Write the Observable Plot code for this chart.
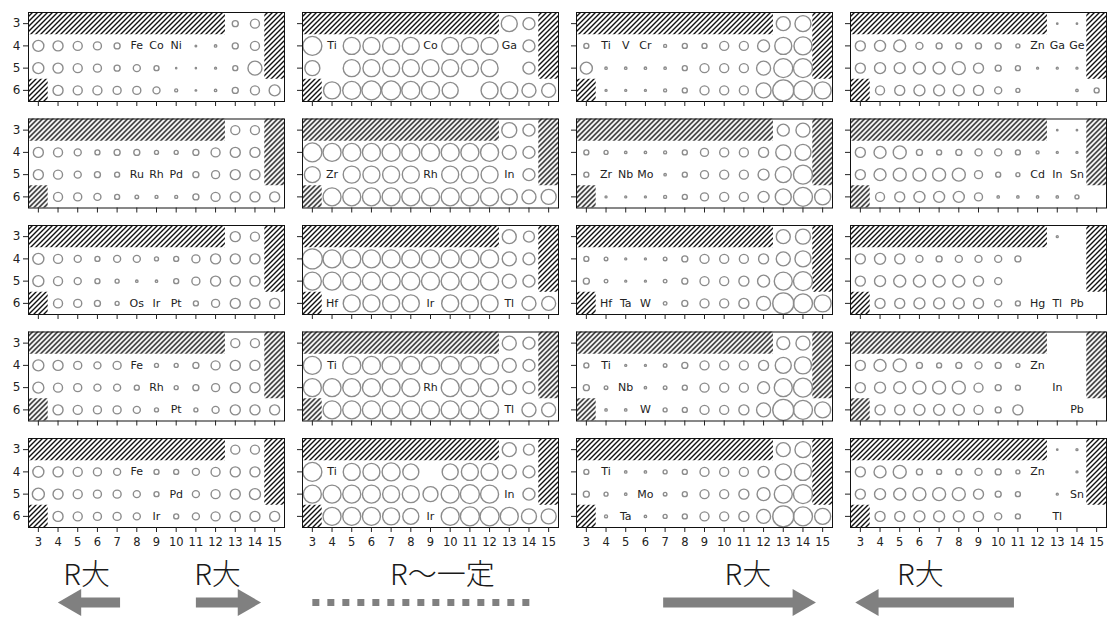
<!DOCTYPE html>
<html><head><meta charset="utf-8">
<script src="https://cdn.jsdelivr.net/npm/d3@7"></script>
<script src="https://cdn.jsdelivr.net/npm/@observablehq/plot@0.6"></script>
<style>html,body{margin:0;background:#fff;} #chart svg{display:block}</style>
</head><body><div id="chart"></div><script>
const _ = null;
const groups = [3,4,5,6,7,8,9,10,11,12,13,14,15];
const periods = [3,4,5,6];

// each panel: rows = periods 3..6, columns = groups 3..15, value = ring size
const r1c1 = [[_,_,_,_,_,_,_,_,_,_,3,4.5,_],[5.5,5,4.5,4,3,_,_,_,0.8,1.2,3,4.5,_],[5.5,5,4.5,4,3,3.5,2.5,0.6,0.6,1,2.5,7,_],[_,5,4.5,4.5,4,4,3.5,1.5,0.8,1.2,3,4.5,5.5]];
const r1c2 = [[_,_,_,_,_,_,_,_,_,_,8,6,_],[9.5,_,8.5,8.5,8.5,8.5,_,8.5,8.5,8.5,_,6,_],[7.5,_,8.5,8.5,8.5,8.5,8.5,8.5,8.5,8.5,_,6,_],[_,8.5,9,9.5,9.5,9,9,8,_,8.5,8.5,7,7]];
const r1c3 = [[_,_,_,_,_,_,_,_,_,_,7,8,_],[2.5,_,_,_,1.5,2.5,2.5,4.5,4.5,6,8.5,9,_],[6,1.2,1.2,1.2,1.2,2.5,4.5,4.5,4.5,7,9.5,9.5,_],[_,1,1,1,1.5,2.5,4.5,4.5,4.5,7.5,10.5,9.5,8.5]];
const r1c4 = [[_,_,_,_,_,_,_,_,_,_,0.7,0.7,_],[5,5.5,6,3.5,3,3,3,3,2,_,_,_,_],[5,5.5,5.5,6,6,6.5,5,3,2.5,1,1,1,_],[_,4.5,5,5.5,5.5,5.5,5,3.5,2,_,_,1.2,2.5]];
const r2c1 = [[_,_,_,_,_,_,_,_,_,_,4.5,4.5,_],[5,4.5,3.5,2.5,3,3,2,2,3,4.5,5,5,_],[5,4.5,3.5,3,2.5,_,_,_,3,4,5,5,_],[_,4.5,4,3.5,2.5,1.8,1.5,1.5,3,4.5,5,5,5]];
const r2c2 = [[_,_,_,_,_,_,_,_,_,_,7.5,6,_],[9.5,9,9,9,9,9,9,9,9,9,7,6,_],[8,_,8.5,8.5,8.5,8.5,_,8.5,8.5,8.5,_,6,_],[_,9,9,9,9,9,9,9,9,9,8,7,7.5]];
const r2c3 = [[_,_,_,_,_,_,_,_,_,_,6,7,_],[2.5,2,1.2,1.2,1.5,2.5,4,4.5,4.5,5,7.5,8,_],[2.5,_,_,_,1.2,2.5,4,4.5,4.5,5.5,8,9.5,_],[_,1,1,1,1.5,2.5,4,4.5,4.5,5.5,8,9.5,8]];
const r2c4 = [[_,_,_,_,_,_,_,_,_,_,0.7,0.7,_],[5,6,6.5,3,2.5,3,3.5,3.5,2.5,1.5,1,1,_],[5,6,6.5,6.5,6.5,6.5,4,2.5,2,_,_,_,_],[_,4.5,5,5.5,5.5,5.5,4,1.2,1.2,1.2,1.2,2,_]];
const r3c1 = [[_,_,_,_,_,_,_,_,_,_,5,4.5,_],[5.5,4.5,3.5,2.5,3.5,3.5,2,2.5,4,5,5,5,_],[5.5,4.5,3.5,2.5,2,1.2,1.2,2.5,4,5,5,5,_],[_,4.5,4,3,2,_,_,_,2.5,4,5,5,5]];
const r3c2 = [[_,_,_,_,_,_,_,_,_,_,7,5.5,_],[10,9,9,9,9,9,9,9,9,9,7,6,_],[9,9,9,9,9,9,9,9,9,9,7,6,_],[_,_,8.5,8.5,8.5,8.5,_,8.5,8.5,8.5,_,7,7]];
const r3c3 = [[_,_,_,_,_,_,_,_,_,_,7,7.5,_],[2.5,1.8,1,1,1.8,3,4.5,4.5,4.5,5,7,8,_],[3,1.8,1,1,1.8,3,4.5,4.5,5,6,9,9.5,_],[_,_,_,_,1.8,3,4.5,4.5,5,7,10.5,9.5,8.5]];
const r3c4 = [[_,_,_,_,_,_,_,_,_,_,1,_,_],[5,5.5,5,3.5,3,3.5,3.5,3.5,3,_,_,_,_],[5,5.5,6,6,6,6,5,3.5,_,_,_,_,_],[_,5,5,5.5,5.5,5.5,5,3.5,2.5,_,_,_,_]];
const r4c1 = [[_,_,_,_,_,_,_,_,_,_,4.5,4.5,_],[5.5,5,4,3.5,4,_,2,2,3,4.5,5,5,_],[5.5,4.5,4,3.5,3.5,2.5,_,2,3,4,5,5,_],[_,5,4.5,4,4,3.5,2,_,2,3.5,5,5,5]];
const r4c2 = [[_,_,_,_,_,_,_,_,_,_,7,6,_],[9,_,9,9,9,9,9,9,9,9,7,6,_],[9,9,9,9,9,9,_,9,9,9,7,6,_],[_,9,9,9,9,9,9,9,9,9,_,7,7]];
const r4c3 = [[_,_,_,_,_,_,_,_,_,_,6.5,7,_],[2.5,_,1,1,1.8,3,4.5,4.5,4.5,5,8,8.5,_],[3,1.8,_,1.2,1.8,2.5,4.5,4.5,4.5,6,9,9.5,_],[_,1.2,1.2,_,2,2.5,4.5,4.5,5,7,10.5,9.5,8]];
const r4c4 = [[_,_,_,_,_,_,_,_,_,_,_,_,_],[5,6,6.5,3,2.5,3,3.5,3,2,_,_,_,_],[5,5.5,6,6.5,6.5,6.5,4.5,3,2.5,_,_,_,_],[_,5,5,5.5,5.5,5.5,4.5,3,5,_,_,_,_]];
const r5c1 = [[_,_,_,_,_,_,_,_,_,_,4.5,4.5,_],[5.5,5,4.5,4,3.5,_,2.5,2.5,3.5,4.5,5,5,_],[6,5,4.5,4,4,3.5,2.5,_,3.5,4.5,5,5.5,_],[_,5,4.5,4,4,3.5,_,2.5,3.5,4.5,5,5,5]];
const r5c2 = [[_,_,_,_,_,_,_,_,_,_,7,5.5,_],[9.5,_,8.5,8.5,9,8,_,8,8.5,8.5,7,6,_],[9,9,9,9,8.5,8.5,7.5,9,9.5,9,_,6,_],[_,9,9,9,8.5,8,_,9,9.5,9.5,9,7.5,7.5]];
const r5c3 = [[_,_,_,_,_,_,_,_,_,_,7,8,_],[2.5,_,1.2,1.2,2,2.5,4.5,4.5,4.5,5.5,8,8.5,_],[3,2,1.2,_,1.8,2.5,4.5,4.5,5,6.5,9,9.5,_],[_,1.5,_,1.2,2,2.5,4.5,4.5,5,7,10.5,9.5,8]];
const r5c4 = [[_,_,_,_,_,_,_,_,_,_,0.7,1,_],[5,6,6.5,3,2.5,3,3.5,3,2,_,_,1,_],[5,5.5,6,6.5,6.5,6.5,5,3,2.5,_,1,_,_],[_,5,5,5.5,5.5,5.5,5,3.5,2.5,_,_,_,_]];

// element labels per panel: [symbol, group, period]
const l1c1 = [["Fe",8,4],["Co",9,4],["Ni",10,4]];
const l1c2 = [["Ti",4,4],["Co",9,4],["Ga",13,4]];
const l1c3 = [["Ti",4,4],["V",5,4],["Cr",6,4]];
const l1c4 = [["Zn",12,4],["Ga",13,4],["Ge",14,4]];
const l2c1 = [["Ru",8,5],["Rh",9,5],["Pd",10,5]];
const l2c2 = [["Zr",4,5],["Rh",9,5],["In",13,5]];
const l2c3 = [["Zr",4,5],["Nb",5,5],["Mo",6,5]];
const l2c4 = [["Cd",12,5],["In",13,5],["Sn",14,5]];
const l3c1 = [["Os",8,6],["Ir",9,6],["Pt",10,6]];
const l3c2 = [["Hf",4,6],["Ir",9,6],["Tl",13,6]];
const l3c3 = [["Hf",4,6],["Ta",5,6],["W",6,6]];
const l3c4 = [["Hg",12,6],["Tl",13,6],["Pb",14,6]];
const l4c1 = [["Fe",8,4],["Rh",9,5],["Pt",10,6]];
const l4c2 = [["Ti",4,4],["Rh",9,5],["Tl",13,6]];
const l4c3 = [["Ti",4,4],["Nb",5,5],["W",6,6]];
const l4c4 = [["Zn",12,4],["In",13,5],["Pb",14,6]];
const l5c1 = [["Fe",8,4],["Pd",10,5],["Ir",9,6]];
const l5c2 = [["Ti",4,4],["In",13,5],["Ir",9,6]];
const l5c3 = [["Ti",4,4],["Mo",6,5],["Ta",5,6]];
const l5c4 = [["Zn",12,4],["Sn",14,5],["Tl",13,6]];

// hatched (non-existent) regions of every panel, in group/period units
const hatchRegions = [
  {x1: 2.5, x2: 12.5, y1: 2.5, y2: 3.5},
  {x1: 14.5, x2: 15.5, y1: 2.5, y2: 5.5},
  {x1: 2.5, x2: 3.5, y1: 5.5, y2: 6.5}
];

// bottom annotations under the last panel row: column index + group position
const annotTexts = [
  {col: 0, g: 5.45, text: "R大"},
  {col: 0, g: 12.1, text: "R大"},
  {col: 1, g: 9.6, text: "R〜一定"},
  {col: 2, g: 11.2, text: "R大"},
  {col: 3, g: 6.05, text: "R大"}
];
const annotArrows = [
  {col: 0, from: 7.15, to: 4.0},
  {col: 0, from: 11.0, to: 14.3},
  {col: 2, from: 6.9, to: 14.65},
  {col: 3, from: 10.8, to: 2.75}
];
const annotDotted = [{col: 1, from: 3.0, to: 14.35}];

const panelGrid = [[r1c1,r1c2,r1c3,r1c4],[r2c1,r2c2,r2c3,r2c4],[r3c1,r3c2,r3c3,r3c4],[r4c1,r4c2,r4c3,r4c4],[r5c1,r5c2,r5c3,r5c4]];
const labelGrid = [[l1c1,l1c2,l1c3,l1c4],[l2c1,l2c2,l2c3,l2c4],[l3c1,l3c2,l3c3,l3c4],[l4c1,l4c2,l4c3,l4c4],[l5c1,l5c2,l5c3,l5c4]];

const records = [];
panelGrid.forEach((rowP, ri) => rowP.forEach((panel, ci) => panel.forEach((vals, pi) => vals.forEach((v, gi) => {
  if (v != null) records.push({row: ri, col: ci, g: groups[gi], p: periods[pi], v});
}))));
const labelRecords = [];
labelGrid.forEach((rowL, ri) => rowL.forEach((labs, ci) => labs.forEach(([s, g, p]) => labelRecords.push({row: ri, col: ci, s, g, p}))));

const arrows = annotArrows.map(d => ({...d, dir: Math.sign(d.to - d.from)}));
const headBack = 0.78;
const yBase = 6.5;

const padX = 18 / 274, padY = 17.5 / 106.5;

const chart = Plot.plot({
  width: 1109, height: 618,
  marginLeft: 28, marginRight: 3, marginTop: 12, marginBottom: 91,
  style: {fontFamily: "DejaVu Sans", fontSize: "12px", color: "#222", background: "white"},
  fx: {domain: [0,1,2,3], paddingInner: padX, paddingOuter: 0, axis: null, round: false},
  fy: {domain: [0,1,2,3,4], paddingInner: padY, paddingOuter: 0, axis: null, round: false},
  x: {domain: [2.5, 15.5]},
  y: {domain: [2.5, 6.5], reverse: true},
  r: {type: "linear", domain: [0, 10], range: [0, 10]},
  marks: [
    Plot.rect(hatchRegions, {x1: "x1", x2: "x2", y1: "y1", y2: "y2", fill: "url(#hatch)"}),
    Plot.dot(records, {x: "g", y: "p", r: "v", fx: "col", fy: "row", stroke: "#8c8c8c", strokeWidth: 1.4, fill: "none"}),
    Plot.text(labelRecords, {x: "g", y: "p", text: "s", fx: "col", fy: "row", fontSize: 11, fill: "#222"}),
    Plot.frame({stroke: "#111", strokeWidth: 1}),
    Plot.axisX({ticks: groups, tickSize: 5, tickFormat: () => "", facetAnchor: null, label: null}),
    Plot.axisX({ticks: groups, tickSize: 0, tickPadding: 10, tickFormat: d => String(d), facetAnchor: "bottom", label: null, fontSize: 11.5}),
    Plot.axisY({ticks: periods, tickSize: 5, tickFormat: () => "", facetAnchor: null, label: null}),
    Plot.axisY({ticks: periods, tickSize: 0, tickPadding: 8, tickFormat: d => String(d), facetAnchor: "left", label: null, fontSize: 12}),
    // annotations below the bottom row
    Plot.text(annotTexts, {fx: "col", x: "g", y: () => yBase, dy: 48.7, text: "text", fontSize: 29, fontFamily: "Noto Sans CJK JP", fontWeight: 300, fill: "#1a1a1a", facetAnchor: "bottom"}),
    Plot.link(arrows, {fx: "col", x1: "from", x2: d => d.to - d.dir * headBack, y1: () => yBase, y2: () => yBase, dy: 75, stroke: "#808080", strokeWidth: 10, facetAnchor: "bottom"}),
    Plot.dot(arrows, {fx: "col", x: d => d.to - d.dir * headBack, y: () => yBase, dy: 75, symbol: "triangle", r: 10, fill: "#808080", rotate: d => d.dir > 0 ? 90 : -90, facetAnchor: "bottom"}),
    Plot.link(annotDotted, {fx: "col", x1: "from", x2: "to", y1: () => yBase, y2: () => yBase, dy: 75, stroke: "#808080", strokeWidth: 7, strokeDasharray: "7,8", facetAnchor: "bottom"})
  ]
});

const defs = d3.select(chart).insert("defs", ":first-child");
const pat = defs.append("pattern").attr("id", "hatch").attr("patternUnits", "userSpaceOnUse").attr("width", 5).attr("height", 5);
pat.append("path").attr("d", "M-1,1L1,-1M0,5L5,0M4,6L6,4").attr("stroke", "#111").attr("stroke-width", 1.4);

document.getElementById("chart").append(chart);
</script></body></html>
